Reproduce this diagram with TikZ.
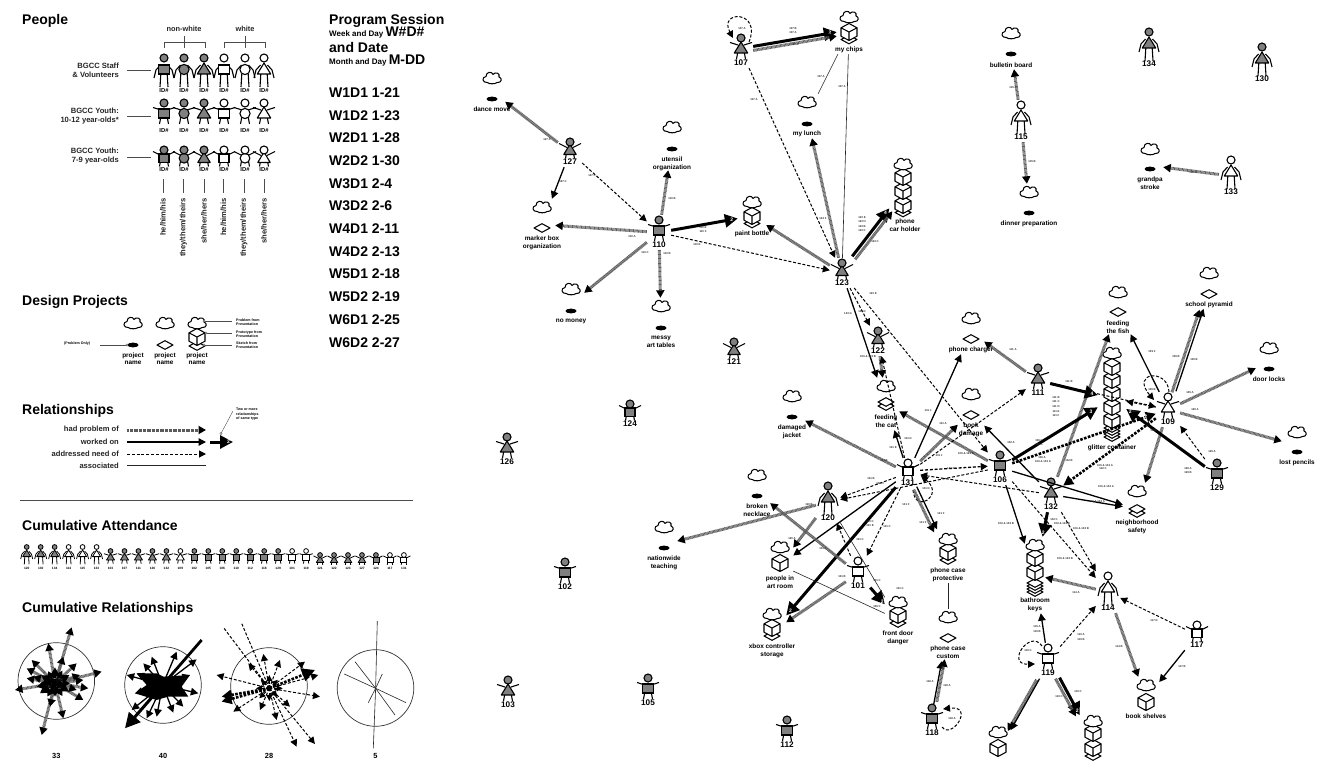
\documentclass[tikz,border=0pt]{standalone}
\usepackage{fontspec}
\setmainfont{Liberation Sans}
\usetikzlibrary{arrows.meta,calc}
\definecolor{figG}{HTML}{808080}
\definecolor{figW}{HTML}{FFFFFF}
\definecolor{hatch}{HTML}{5C5C5C}
\newcount\tc
\def\figlw{1.1pt}
\def\loffA{32}\def\loffY{25}\def\loffC{20}
\tikzset{
  icon/.style={line width=1.05pt,draw=black,line join=round},
  pbox/.style={rectangle,inner sep=0pt,minimum width=24pt},
  jbox/.style={rectangle,inner sep=0pt},
  plab/.style={font=\fontsize{8.2}{9}\selectfont\bfseries,inner sep=0pt},
  ptext/.style={font=\fontsize{6.4}{7.6}\selectfont\bfseries,inner sep=0pt,align=center,anchor=north},
  slab/.style={font=\fontsize{2.8}{3}\selectfont\bfseries,inner sep=0pt,text=black!80},
  head/.style={font=\fontsize{14}{16}\selectfont\bfseries,inner sep=0pt,anchor=west},
  leg/.style={font=\fontsize{7.6}{9}\selectfont\bfseries,inner sep=0pt,align=right,anchor=east,text=black!85},
  rel/.style={font=\fontsize{7.6}{9}\selectfont\bfseries,inner sep=0pt,anchor=east,text=black!85},
  tiny/.style={font=\fontsize{3.6}{4.4}\selectfont\bfseries,inner sep=0pt,align=left,anchor=west},
  pron/.style={font=\fontsize{7.6}{8}\selectfont\bfseries,inner sep=0pt,rotate=90,anchor=east,text=black!85},
  sess/.style={font=\fontsize{14}{16}\selectfont\bfseries,inner sep=0pt,anchor=west},
  had/.style={draw=hatch,line width=3pt,dash pattern=on 0.8pt off 0.5pt,-{Triangle[length=7.5pt,width=8pt,black]}},
  work/.style={draw=black,line width=1.3pt,-{Triangle[length=7.5pt,width=7.5pt]}},
  work2/.style={draw=black,line width=3pt,-{Triangle[length=13pt,width=13pt]}},
  addr/.style={draw=black,line width=1pt,dash pattern=on 3pt off 1.8pt,-{Triangle[length=7pt,width=7pt]}},
  addr2/.style={draw=black,line width=2.6pt,dash pattern=on 2.6pt off 1.4pt,-{Triangle[length=10pt,width=10pt]}},
  asso/.style={draw=black!85,line width=0.6pt},
  cnt/.style={font=\fontsize{5}{5}\selectfont\bfseries,text=white,inner sep=0pt},
  off/.style 2 args={transform canvas={xshift=#1,yshift=#2}},
  rule/.style={draw=black!70,line width=0.7pt},
  dotend/.style={draw=black!70,fill=white,line width=0.4pt},
}
\newcommand\bdS[4]{\draw[line width=\figlw,fill=#1] (-#4,#2) rectangle (#4,#3);}
\newcommand\bdC[4]{\draw[line width=\figlw,fill=#1] (0,{(#2+#3)/2}) circle[radius={(#3-#2)/2+0.6}];}
\newcommand\bdT[4]{\draw[line width=\figlw,fill=#1,line join=round] (0,{#2-2}) -- ({#4+1.2},#3) -- ({-#4-1.2},#3) -- cycle;}
\newcommand\kindA[2]{%
  \draw[line width=\figlw,line join=round] (-3.5,7) -- (-8,12) -- (-10,20) (3.5,7) -- (8,12) -- (10,20) (-3.2,16) -- (-4,29) (3.2,16) -- (4,29);
  \csname bd#1\endcsname{#2}{7}{16}{5.5}
  \draw[line width=\figlw,fill=#2] (0,0) circle[radius=4];}
\newcommand\kindY[2]{%
  \draw[line width=\figlw] (-3,7) -- (-11,4.5) (3,7) -- (11,4.5) (-3.2,14) -- (-4.5,21) (3.2,14) -- (4.5,21);
  \csname bd#1\endcsname{#2}{6}{15}{5.5}
  \draw[line width=\figlw,fill=#2] (0,0) circle[radius=4];}
\newcommand\kindC[2]{%
  \draw[line width=\figlw] (-3,5.5) -- (-11,1.5) (3,5.5) -- (11,1.5) (-3.5,11) -- (-4.5,16.5) (3.5,11) -- (4.5,16.5);
  \csname bd#1\endcsname{#2}{4}{12.5}{5}
  \draw[line width=\figlw,fill=#2] (0,0) circle[radius=4];}
\newcommand\figr[6]{\begin{scope}[shift={(#1,#2)},scale=#6]\csname kind#3\endcsname{#4}{fig#5}\end{scope}}
% person: id, x, head y, kind, body, fill
\newcommand\person[6]{%
  \figr{#2}{#3}{#4}{#5}{#6}{1}
  \node[pbox,minimum height={(\csname loff#4\endcsname+10)*1pt}] (p#1) at (#2,{#3+\csname loff#4\endcsname/2}) {};
  \node[plab] (p#1t) at (#2,{#3+\csname loff#4\endcsname}) {#1};}
\newcommand\cld[2]{\draw[icon,fill=white,shift={(#1,#2)}] (-4.5,4.6) .. controls (-10,5) and (-10.5,-1) .. (-6,-1.5) .. controls (-6,-6.5) and (0,-6.8) .. (1,-3.6) .. controls (3,-6.5) and (8.5,-5) .. (7,-1) .. controls (10.5,0) and (10,5) .. (5,4.6) .. controls (3,6.2) and (-3,6.2) .. (-4.5,4.6) -- cycle;}
\newcommand\ovl[2]{\fill[black,shift={(#1,#2)}] (0,0) ellipse[x radius=5.5,y radius=2.4];}
\newcommand\dmd[2]{\draw[icon,fill=white,shift={(#1,#2)}] (-8,0) -- (0,-4.3) -- (8,0) -- (0,4.3) -- cycle;}
\newcommand\cub[2]{\draw[icon,fill=white,shift={(#1,#2)}] (0,-8.5) -- (8,-4.2) -- (8,4.2) -- (0,8.5) -- (-8,4.2) -- (-8,-4.2) -- cycle (-8,-4.2) -- (0,0) -- (8,-4.2) (0,0) -- (0,8.5);}
\newcommand\prj[5][26]{\node[jbox,minimum width=#1pt,minimum height={(#5-#4)*1pt}] (#2) at (#3,{(#4+#5)/2}) {};}
\newcommand\ptx[4]{\node[ptext] (#1t) at (#2,{#3-2.2}) {#4};}
\newcommand\conl[3]{\global\advance\tc by 1 \node[slab] (s\the\tc) at (#1,#2) {#3};}
\newcommand\txn[4][]{\global\advance\tc by 1 \node[#1] (x\the\tc) at (#2,#3) {#4};}
\begin{document}
\begin{tikzpicture}[x=1pt,y=-1pt]
\useasboundingbox (0,0) rectangle (1321,762);
\fill[white] (0,0) rectangle (1321,762);
\clip (0,0) rectangle (1321,762);

%% ---------- left panel ----------
\txn[head]{22}{20.5}{People}
\txn[head]{22}{301.5}{Design Projects}
\txn[head]{22}{410.5}{Relationships}
\txn[head]{22}{525.5}{Cumulative Attendance}
\txn[head]{22}{608.5}{Cumulative Relationships}
\txn[font=\fontsize{7.4}{8}\selectfont\bfseries,inner sep=0pt,text=black!85]{184}{29}{non-white}
\txn[font=\fontsize{7.4}{8}\selectfont\bfseries,inner sep=0pt,text=black!85]{245}{29}{white}
\coordinate (bA) at (164,48); \coordinate (bB) at (205,48); \coordinate (bC) at (224,48); \coordinate (bD) at (265,48);
\coordinate (bE) at (184.5,36); \coordinate (bF) at (245,36);
\draw[rule] (bA) -- +(0,-6) -| (bB);
\draw[rule] (bC) -- +(0,-6) -| (bD);
\draw[rule] (bE) -- +(0,12);
\draw[rule] (bF) -- +(0,12);
\txn[leg]{119}{70.5}{BGCC Staff\\\& Volunteers}
\txn[leg]{119}{116.5}{BGCC Youth:\\10-12 year-olds*}
\txn[leg]{119}{156.5}{BGCC Youth:\\7-9 year-olds}
\foreach \yy in {70,116,157}{\coordinate (rl) at (127,\yy); \draw[rule] (rl) -- +(24,0);}
\foreach \xx/\bb/\ff in {164/S/G,184/C/G,204/T/G,224/S/W,245/C/W,264/T/W}{
  \figr{\xx}{58}{A}{\bb}{\ff}{1}
  \figr{\xx}{103}{Y}{\bb}{\ff}{1}
  \figr{\xx}{150}{C}{\bb}{\ff}{1}
  \txn[font=\fontsize{5.8}{6}\selectfont\bfseries,inner sep=0pt]{\xx}{91}{ID\#}
  \txn[font=\fontsize{5.8}{6}\selectfont\bfseries,inner sep=0pt]{\xx}{130.5}{ID\#}
  \txn[font=\fontsize{5.8}{6}\selectfont\bfseries,inner sep=0pt]{\xx}{170}{ID\#}
}
\foreach \xx in {163,183.5,204,223.5,244,264}{\coordinate (pl) at (\xx,179); \draw[rule] (pl) -- +(0,14);}
\txn[pron]{163}{198}{he/him/his}
\txn[pron]{183.5}{198}{they/them/theirs}
\txn[pron]{204}{198}{she/her/hers}
\txn[pron]{223.5}{198}{he/him/his}
\txn[pron]{244}{198}{they/them/theirs}
\txn[pron]{264}{198}{she/her/hers}

% session column
\txn[font=\fontsize{14}{16}\selectfont\bfseries,inner sep=0pt,anchor=west]{329}{21}{Program Session}
\txn[inner sep=0pt,anchor=west,font=\bfseries]{329}{33}{\fontsize{8}{9}\selectfont Week and Day \fontsize{14}{14}\selectfont W\#D\#}
\txn[font=\fontsize{14}{16}\selectfont\bfseries,inner sep=0pt,anchor=west]{329}{47.5}{and Date}
\txn[inner sep=0pt,anchor=west,font=\bfseries]{329}{60.5}{\fontsize{8}{9}\selectfont Month and Day \fontsize{14}{14}\selectfont M-DD}
\foreach \yy/\ss in {92.5/W1D1 1-21,115.5/W1D2 1-23,137.5/W2D1 1-28,160.5/W2D2 1-30,183.5/W3D1 2-4,205.5/W3D2 2-6,228.5/W4D1 2-11,251.5/W4D2 2-13,273.5/W5D1 2-18,296.5/W5D2 2-19,319.5/W6D1 2-25,342.5/W6D2 2-27}{
  \txn[sess]{329}{\yy}{\ss}}

% design project legend
\cld{133}{323} \cld{165}{323}
\ovl{133}{345}
\dmd{165}{345}
\dmd{197}{346}
\cub{197}{337}
\cld{197}{323}
\foreach \xx in {133,165,197}{\txn[ptext]{\xx}{352.5}{project\\name}}
\txn[tiny]{64}{343.5}{(Problem Only)}
\coordinate (dA) at (100,345); \coordinate (dB) at (127,345);
\draw[rule] (dA) -- (dB); \draw[dotend] (dB) circle[radius=1.1];
\coordinate (dC) at (204,321); \coordinate (dD) at (232,321);
\coordinate (dE) at (206,333); \coordinate (dF) at (232,333);
\coordinate (dG) at (204,345); \coordinate (dH) at (232,345);
\draw[rule] (dC) -- (dD); \draw[rule] (dE) -- (dF); \draw[rule] (dG) -- (dH);
\foreach \cc in {dC,dE,dG}{\draw[dotend] (\cc) circle[radius=1.1];}
\txn[tiny]{236}{322}{Problem from\\Presentation}
\txn[tiny]{236}{334}{Prototype from\\Presentation}
\txn[tiny]{236}{345.5}{Sketch from\\Presentation}

% relationship legend
\txn[rel]{119}{430}{had problem of}
\txn[rel]{119}{442}{worked on}
\txn[rel]{119}{453.5}{addressed need of}
\txn[rel]{119}{465.5}{associated}
\coordinate (rA) at (127,430); \coordinate (rB) at (206,430);
\coordinate (rC) at (127,442); \coordinate (rD) at (206,442);
\coordinate (rE) at (127,454); \coordinate (rF) at (206,454);
\coordinate (rG) at (127,465.5); \coordinate (rH) at (206,465.5);
\coordinate (rI) at (210,442); \coordinate (rJ) at (233,442);
\coordinate (rK) at (221,433.5); \coordinate (rL) at (233,411);
\draw[had] (rA) -- (rB);
\draw[work] (rC) -- (rD);
\draw[addr] (rE) -- (rF);
\draw[asso] (rG) -- (rH);
\draw[work2] (rI) -- node[cnt,pos=.8]{2} (rJ);
\draw[rule,line width=0.4pt] (rK) -- (rL);
\draw[dotend] (rK) circle[radius=1.1];
\txn[tiny]{236}{414.5}{Two or more\\relationships\\of same type}
\coordinate (hrA) at (20,500.5); \coordinate (hrB) at (413,500.5);
\draw[rule] (hrA) -- (hrB);

% attendance
\def\figlw{0.8pt}
\foreach \ii/\kk/\hh/\bb/\ff/\ll in {
0/A/547/T/G/120,1/A/547/T/G/130,2/A/547/T/G/134,3/A/547/T/W/114,4/A/547/T/W/115,5/A/547/T/W/133,
6/Y/551/T/G/103,7/Y/551/T/G/107,8/Y/551/T/G/111,9/Y/551/T/G/126,10/Y/551/T/G/132,11/Y/551/T/W/109,
12/Y/551/S/G/102,13/Y/551/S/G/105,14/Y/551/S/G/106,15/Y/551/S/G/110,16/Y/551/S/G/112,17/Y/551/S/G/118,18/Y/551/S/G/129,19/Y/551/S/W/101,20/Y/551/S/W/119,
21/C/555/T/G/121,22/C/555/T/G/122,23/C/555/T/G/123,24/C/555/T/G/127,25/C/555/S/G/124,26/C/555/S/W/117,27/C/555/S/W/131}{
  \pgfmathsetmacro\xp{26.7+13.97*\ii}
  \figr{\xp}{\hh}{\kk}{\bb}{\ff}{0.6}
  \txn[font=\fontsize{3.2}{3.4}\selectfont\bfseries,inner sep=0pt]{\xp}{568}{\ll}
}
\def\figlw{1.1pt}

% cumulative relationship bursts
\foreach \xx/\yy/\nn in {56.3/681/33,163/685/40,269/686/28,375.5/688/5}{
  \draw[draw=black!80,line width=0.7pt] (\xx,\yy) circle[radius=38.3];
  \txn[font=\fontsize{7.4}{8}\selectfont\bfseries,inner sep=0pt]{\xx}{756}{\nn}
}
\begin{scope}[shift={(0,520)},scale=0.3333]
\coordinate (h1) at (165,490);
\coordinate (h2) at (488,495);
\coordinate (h3) at (808,505);
\coordinate (h4) at (1127,505);
\foreach \xx/\yy in {215/322,145/370,95/420,80/445,80/475,45/510,120/520,125/645,190/595,250/540,265/505,305/455,240/465,190/410,230/430,100/470,110/500,230/510,150/560,250/480}{\draw[had] (h1) -- (\xx,\yy);}
\foreach \aa/\rr in {0/45,30/48,60/44,90/40,120/46,150/50,180/44,210/48,240/42,270/48,300/44,330/50,15/32,105/32,195/34}{\draw[had,draw=black] (h1) -- +(\aa:\rr);}
\fill[black] (410,460) -- (470,460) -- (490,470) -- (570,465) -- (545,500) -- (565,530) -- (505,530) -- (470,540) -- (405,520) -- (440,495) -- cycle;
\foreach \xx/\yy in {530/395,590/418,455/410,430/430,410/460,380/465,405/520,595/520,520/578,470/590,440/595,395/570,550/560,570/465}{\draw[work] (h2) -- (\xx,\yy);}
\coordinate (b2a) at (605,360); \draw[draw=black,line width=2.8pt] (h2) -- (b2a);
\coordinate (b2b) at (375,625); \draw[work2,-{Triangle[length=15pt,width=15pt]}] (h2) -- (b2b);
\foreach \xx/\yy in {1132/303,1120/685,1065/425,1033/462,1147/462,1105/548,1185/585,1218/548}{\draw[asso] (h4) -- (\xx,\yy);}
\foreach \xx/\yy in {790/402,840/420,915/425,955/465,960/530,945/672,890/680,870/560,830/600,780/570,700/575,650/465,745/430}{\draw[addr] (h3) -- (\xx,\yy);}
\coordinate (b3a) at (670,322); \coordinate (b3b) at (725,310);
\draw[addr,-] (h3) -- (b3a); \draw[addr,-] (h3) -- (b3b);
\coordinate (b3c) at (945,450); \coordinate (b3d) at (665,530); \coordinate (b3e) at (665,545);
\draw[addr2,-{Triangle[length=13pt,width=13pt]}] (h3) -- (b3c); \draw[addr2] (h3) -- (b3d); \draw[addr2] (h3) -- (b3e);
\foreach \aa/\rr in {0/40,45/35,90/38,135/42,180/40,225/36,270/40,315/36}{\draw[addr,-{Triangle[length=6pt,width=6pt]}] (h3) -- +(\aa:\rr);}
\end{scope}

%% ---------- people ----------
\person{107}{741}{38}{Y}{T}{G}
\person{127}{570}{142}{C}{T}{G}
\person{110}{659}{220}{Y}{S}{G}
\person{121}{734}{342}{C}{T}{G}
\person{123}{842}{263}{C}{T}{G}
\person{122}{878}{331}{C}{T}{G}
\person{124}{630}{404}{C}{S}{G}
\person{126}{507}{437}{Y}{T}{G}
\person{102}{565}{562}{Y}{S}{G}
\person{103}{508}{680}{Y}{T}{G}
\person{105}{648}{678}{Y}{S}{G}
\person{112}{787}{720}{Y}{S}{G}
\person{118}{932}{708}{Y}{S}{G}
\person{101}{858}{561}{Y}{S}{W}
\person{119}{1048}{648}{Y}{S}{W}
\person{120}{828}{486}{A}{T}{G}
\person{131}{908}{463}{C}{S}{W}
\person{106}{1000}{455}{Y}{S}{G}
\person{132}{1051}{482}{Y}{T}{G}
\person{129}{1217}{463}{Y}{S}{G}
\person{109}{1168}{397}{Y}{T}{W}
\person{111}{1038}{368}{Y}{T}{G}
\person{114}{1108}{576}{A}{T}{W}
\person{117}{1197}{625}{C}{S}{W}
\person{115}{1021}{105}{A}{T}{W}
\person{134}{1149}{32}{A}{T}{G}
\person{130}{1262}{47}{A}{T}{G}
\person{133}{1231}{160}{A}{T}{W}

%% ---------- design projects ----------
\prj{dance}{492}{70}{113} \cld{492}{78} \ovl{492}{99} \ptx{dance}{492}{109}{dance move}
\prj{utensil}{672}{119}{170} \cld{672}{127} \ovl{672}{149} \ptx{utensil}{672}{159}{utensil\\organization}
\prj{marker}{542}{199}{250} \cld{542}{207} \dmd{542}{228} \ptx{marker}{542}{238}{marker box\\organization}
\prj{nomoney}{571}{281}{326} \cld{571}{289} \ovl{571}{311} \ptx{nomoney}{571}{321}{no money}
\prj{messy}{661}{298}{350} \cld{661}{306} \ovl{661}{328} \ptx{messy}{661}{338}{messy\\art tables}
\prj[28]{paint}{752}{194}{238} \dmd{752}{223.5} \cub{752}{216} \cld{752}{202} \ptx{paint}{752}{233}{paint bottle}
\prj[24]{chips}{849}{10}{54} \dmd{849}{39.5} \cub{849}{32} \cld{849}{17} \ptx{chips}{849}{49}{my chips}
\prj{lunch}{807}{94}{138} \cld{807}{102} \ovl{807}{124} \ptx{lunch}{807}{133}{my lunch}
\prj[24]{holder}{903}{156}{232} \dmd{903}{212.5} \cub{903}{205} \cub{903}{191} \cub{903}{177} \cld{903}{164} \ptx{holder}{905}{221}{phone\\car holder}
\prj{bulletin}{1011}{25}{69} \cld{1011}{33} \ovl{1011}{54} \ptx{bulletin}{1011}{65}{bulletin board}
\prj{dinner}{1029}{184}{228} \cld{1029}{192} \ovl{1029}{213} \ptx{dinner}{1029}{223}{dinner preparation}
\prj{grandpa}{1150}{141}{190} \cld{1150}{149} \ovl{1150}{169} \ptx{grandpa}{1150}{179}{grandpa\\stroke}
\prj[20]{pyramid}{1209}{265}{309} \cld{1209}{273} \dmd{1209}{294} \ptx{pyramid}{1209}{304}{school pyramid}
\prj{fish}{1118}{284}{334} \cld{1118}{292} \dmd{1118}{312} \ptx{fish}{1118}{323}{feeding\\the fish}
\prj[28]{glitter}{1112}{345}{452}
\foreach \yy in {437,434,431,428}{\dmd{1112}{\yy}}
\foreach \yy in {420,407,393,380,367}{\cub{1112}{\yy}}
\cld{1112}{353} \ptx{glitter}{1112}{447}{glitter container}
\prj{door}{1269}{340}{384} \cld{1269}{348} \ovl{1269}{369} \ptx{door}{1269}{379}{door locks}
\prj[30]{lost}{1297}{424}{467} \cld{1297}{432} \ovl{1297}{452} \ptx{lost}{1297}{462}{lost pencils}
\prj{charger}{971}{310}{354} \cld{971}{318} \dmd{971}{339} \ptx{charger}{971}{349}{phone charger}
\prj{bookd}{971}{386}{438} \cld{971}{394} \dmd{971}{415} \ptx{bookd}{971}{425}{book\\damage}
\prj[28]{neigh}{1137}{483}{535} \cld{1137}{491} \dmd{1137}{513} \dmd{1137}{509} \ptx{neigh}{1137}{522}{neighborhood\\safety}
\prj{cat}{886}{378}{430} \cld{886}{386} \dmd{886}{406} \dmd{886}{402} \ptx{cat}{886}{417}{feeding\\the cat}
\prj{jacket}{792}{388}{440} \cld{792}{396} \ovl{792}{417} \ptx{jacket}{792}{427}{damaged\\jacket}
\prj{necklace}{757}{467}{518} \cld{757}{475} \ovl{757}{496} \ptx{necklace}{757}{506}{broken\\necklace}
\prj{nationwide}{664}{519}{570} \cld{664}{527} \ovl{664}{548} \ptx{nationwide}{664}{558}{nationwide\\teaching}
\prj{people}{780}{539}{591} \cub{780}{563} \cld{780}{547} \ptx{people}{780}{578}{people in\\art room}
\prj[28]{xbox}{772}{606}{658} \dmd{772}{636} \cub{772}{628} \cld{772}{614} \ptx{xbox}{772}{646}{xbox controller\\storage}
\prj{front}{898}{594}{645} \dmd{898}{623} \cub{898}{615} \cld{898}{602} \ptx{front}{898}{633}{front door\\danger}
\prj{protective}{948}{531}{583} \dmd{948}{560} \cub{948}{552} \cld{948}{539} \ptx{protective}{948}{570}{phone case\\protective}
\prj{custom}{948}{609}{660} \cld{948}{617} \dmd{948}{638} \ptx{custom}{948}{648}{phone case\\custom}
\prj[20]{bathroom}{1035}{537}{613}
\foreach \yy in {592,589,586,583}{\dmd{1035}{\yy}}
\cub{1035}{572} \cub{1035}{558} \cld{1035}{545} \ptx{bathroom}{1035}{600}{bathroom\\keys}
\prj{shelves}{1146}{677}{720} \cub{1146}{702} \cld{1146}{685} \ptx{shelves}{1146}{716}{book shelves}
\prj[22]{lowleft}{998}{724}{775} \cub{998}{748} \cld{998}{732}
\prj[30]{lowright}{1093}{713}{775} \dmd{1093}{756} \cub{1093}{748} \cub{1093}{733} \cld{1093}{721}

%% ---------- connectors ----------
\draw[had] (p127) -- (dance);
\draw[work] (p127) -- (marker);
\draw[addr] (p127) -- (p110);
\draw[had] (p110) -- (utensil);
\draw[had] (p110) -- (marker);
\draw[had] (p110) -- (nomoney);
\draw[had] (p110) -- (messy);
\draw[work2] (p110) -- node[cnt,pos=.91]{2} (paint);
\draw[addr] (p110) -- (p123);
\draw[addr] ([shift={(8,-8.5)}]p107.center) .. controls +(13,-32) and +(-15,-28) .. ([shift={(-8,-12.5)}]p107.center);
\draw[work2,off={0pt}{2pt}] (p107) -- node[cnt,pos=.92]{2} (chips);
\draw[had,off={0pt}{-2pt}] (p107) -- (chips);
\draw[addr] (p107) -- (p123);
\draw[asso] (chips) -- (lunch);
\draw[asso] (chips) -- (p123);
\draw[had] (p123) -- (lunch);
\draw[had] (p123) -- (paint);
\draw[work2,off={-1.5pt}{1.5pt}] (p123) -- node[cnt,pos=.9]{4} (holder);
\draw[had,off={1.5pt}{-1.5pt}] (p123) -- (holder);
\draw[addr] (p123) -- (p122);
\draw[work] (p123) -- (cat);
\draw[addr] (p123) -- (p106);
\draw[had] (p122) -- (cat);
\draw[addr] (p131) -- (p122);
\draw[work] (p131) -- (cat);
\draw[had] (p106) -- (cat);
\draw[had] (p131) -- (jacket);
\draw[work] (p131) -- (charger);
\draw[had] (p131) -- (bookd);
\draw[addr] (p131) -- (p111);
\draw[addr,line width=1.3pt,off={0pt}{2pt}] (p131) -- (p106);
\draw[addr] (p106) -- (p120);
\draw[addr] (p132) -- (p131);
\draw[addr] (p131) -- (p120);
\draw[addr] ([shift={(5,17)}]p131.center) .. controls +(2,25) and +(24,19) .. ([shift={(13,3)}]p131.center);
\draw[work] (p131) -- (people);
\draw[work2] (p131) -- node[cnt,pos=.96]{2} (xbox);
\draw[work,off={1.5pt}{1.5pt}] (p131) -- (protective);
\draw[had,off={-1.5pt}{-1.5pt}] (p131) -- (protective);
\draw[addr] (p131) -- (p101);
\draw[addr] (p101) -- (p120);
\draw[had] (p101) -- (necklace);
\draw[work2] (p101) -- node[cnt,pos=.82]{2} (front);
\draw[had] (p101) -- (xbox);
\draw[had] (p120) -- (nationwide);
\draw[had] (p120) -- (people);
\draw[asso] (p120) -- (front);
\draw[asso] (people) -- (front);
\draw[asso] (protective) -- (custom);
\draw[work,off={-1.5pt}{-1pt}] (p118) -- (custom);
\draw[had,off={1.5pt}{1pt}] (p118) -- (custom);
\draw[addr] ([shift={(10,6.5)}]p118.center) .. controls +(10,13) and +(32,-4) .. ([shift={(11,-11.5)}]p118.center);
\draw[work] (p132) -- (bookd);
\draw[had] (p132) -- (fish);
\draw[had] (p111) -- (charger);
\draw[addr] (p111) -- (p109);
\draw[work2] (p111) -- node[cnt,pos=.88]{4} (glitter);
\draw[addr] (p109) -- (glitter);
\draw[addr2] (p106) -- node[cnt,pos=.93]{2} (p109);
\draw[work2] (p106) -- node[cnt,pos=.92]{3} (glitter);
\draw[addr2] (p109) -- (p132);
\draw[work] (p109) -- (fish);
\draw[had,off={-2pt}{-0.5pt}] (p109) -- (pyramid);
\draw[work,off={2pt}{0.5pt}] (p109) -- (pyramid);
\draw[had] (p109) -- (door);
\draw[had] (p109) -- (lost);
\draw[had] (p109) -- (neigh);
\draw[addr] ([shift={(1,-17.5)}]p109.center) .. controls +(-1,-24) and +(-24,-28) .. ([shift={(-14,-9.5)}]p109.center);
\draw[addr] (p129) -- (p109);
\draw[work2] (p129) -- node[cnt,pos=.95]{2} (glitter);
\draw[work] (p106) -- (neigh);
\draw[work] (p132) -- (neigh);
\draw[work] (p106) -- (bathroom);
\draw[work2] (p132) -- node[cnt,pos=.85]{2} (bathroom);
\draw[addr] (p106) -- (p114);
\draw[addr] (p132) -- (p114);
\draw[work] (p119) -- (bathroom);
\draw[addr] (p119) -- (p114);
\draw[addr] ([shift={(-6,-14.5)}]p119.center) .. controls +(-12,-18) and +(-30,1) .. ([shift={(-13,3.5)}]p119.center);
\draw[had,off={-1.5pt}{-1.5pt}] (p119) -- (lowleft);
\draw[work,off={1.5pt}{-0.5pt}] (p119) -- (lowleft);
\draw[work2,off={2pt}{0.5pt}] (p119) -- node[cnt,pos=.88]{2} (lowright);
\draw[had,off={-2pt}{-0.5pt}] (p119) -- (lowright);
\draw[had] (p114) -- (bathroom);
\draw[had] (p114) -- (shelves);
\draw[addr] (p117) -- (p114);
\draw[work] (p117) -- (shelves);
\draw[had] (p115) -- (bulletin);
\draw[had] (p115) -- (dinner);
\draw[had] (p133) -- (grandpa);

%% ---------- connector labels ----------
\conl{547}{140}{127 A} \conl{563}{182}{127 C} \conl{592}{176}{127 C} \conl{672}{199}{110 B} \conl{632}{237}{110 A}
\conl{645}{253}{110 C} \conl{667}{254}{110 B} \conl{703}{228}{110 E} \conl{703}{232}{110 F} \conl{697}{245}{110 E}
\conl{742}{29}{107 A} \conl{754}{100}{107 A} \conl{793}{29}{107 B} \conl{793}{33}{107 A} \conl{795}{45}{107 A}
\conl{821}{77}{107 A} \conl{842}{87}{107 A} \conl{823}{219}{123 F} \conl{862}{218}{123 E} \conl{862}{222}{123 H}
\conl{862}{227}{123 B} \conl{862}{231}{123 C} \conl{875}{242}{123 C} \conl{848}{314}{123 G} \conl{862}{312}{123 D}
\conl{873}{294}{123 E} \conl{1013}{88}{115 A} \conl{1032}{162}{115 B} \conl{1193}{173}{133 A}
\conl{868}{357}{106 \& 122 B} \conl{908}{439}{131 D} \conl{893}{448}{131 E} \conl{884}{461}{131 B} \conl{928}{411}{131 J}
\conl{943}{424}{131 A} \conl{939}{456}{131 J} \conl{951}{469}{131 G} \conl{966}{454}{106 \& 122 B} \conl{871}{479}{131 B}
\conl{880}{484}{131 H} \conl{809}{505}{120 B} \conl{792}{539}{120 A} \conl{823}{549}{101 A} \conl{870}{522}{120 C}
\conl{870}{526}{101 E} \conl{887}{527}{131 C} \conl{860}{540}{101 C} \conl{906}{505}{131 F} \conl{941}{514}{131 F}
\conl{923}{523}{131 F} \conl{926}{489}{131 D} \conl{877}{581}{101 C} \conl{900}{589}{101 C} \conl{877}{607}{106 C} \conl{842}{577}{101 B}
\conl{930}{682}{118 A} \conl{947}{686}{118 A} \conl{952}{719}{118 A}
\conl{1013}{350}{111 A} \conl{1069}{382}{111 B} \conl{1056}{398}{111 B} \conl{1056}{402}{111 C} \conl{1056}{407}{111 D}
\conl{1056}{412}{111 E} \conl{1056}{416}{111 F} \conl{1039}{441}{106 C} \conl{1039}{445}{106 A} \conl{1042}{458}{106 A}
\conl{1043}{462}{106 \& 132 A} \conl{1011}{443}{132 A} \conl{1069}{461}{132 B} \conl{1105}{466}{106 \& 132 A} \conl{1103}{469}{132 C}
\conl{1106}{487}{106 \& 132 A} \conl{1097}{502}{106 \& 132 A} \conl{1135}{412}{109 C} \conl{1154}{431}{109 C} \conl{1152}{352}{109 F}
\conl{1176}{357}{109 B} \conl{1194}{360}{109 B} \conl{1152}{390}{109 B} \conl{1190}{393}{109 A} \conl{1195}{410}{129 A}
\conl{1212}{452}{129 A} \conl{1188}{469}{129 A} \conl{1188}{473}{129 B} \conl{1006}{524}{106 \& 132 B} \conl{1054}{520}{132 C}
\conl{1062}{524}{106 \& 132 B} \conl{1081}{529}{106 \& 132 B} \conl{1065}{559}{106 \& 132 B} \conl{1076}{593}{114 A}
\conl{1037}{627}{119 A} \conl{1037}{632}{119 B} \conl{1081}{635}{119 A} \conl{1081}{640}{119 B} \conl{1028}{651}{119 C}
\conl{1059}{697}{119 C} \conl{1078}{692}{119 C} \conl{1119}{647}{114 B} \conl{1154}{621}{117 D} \conl{1182}{667}{117 B}
\end{tikzpicture}
\end{document}
